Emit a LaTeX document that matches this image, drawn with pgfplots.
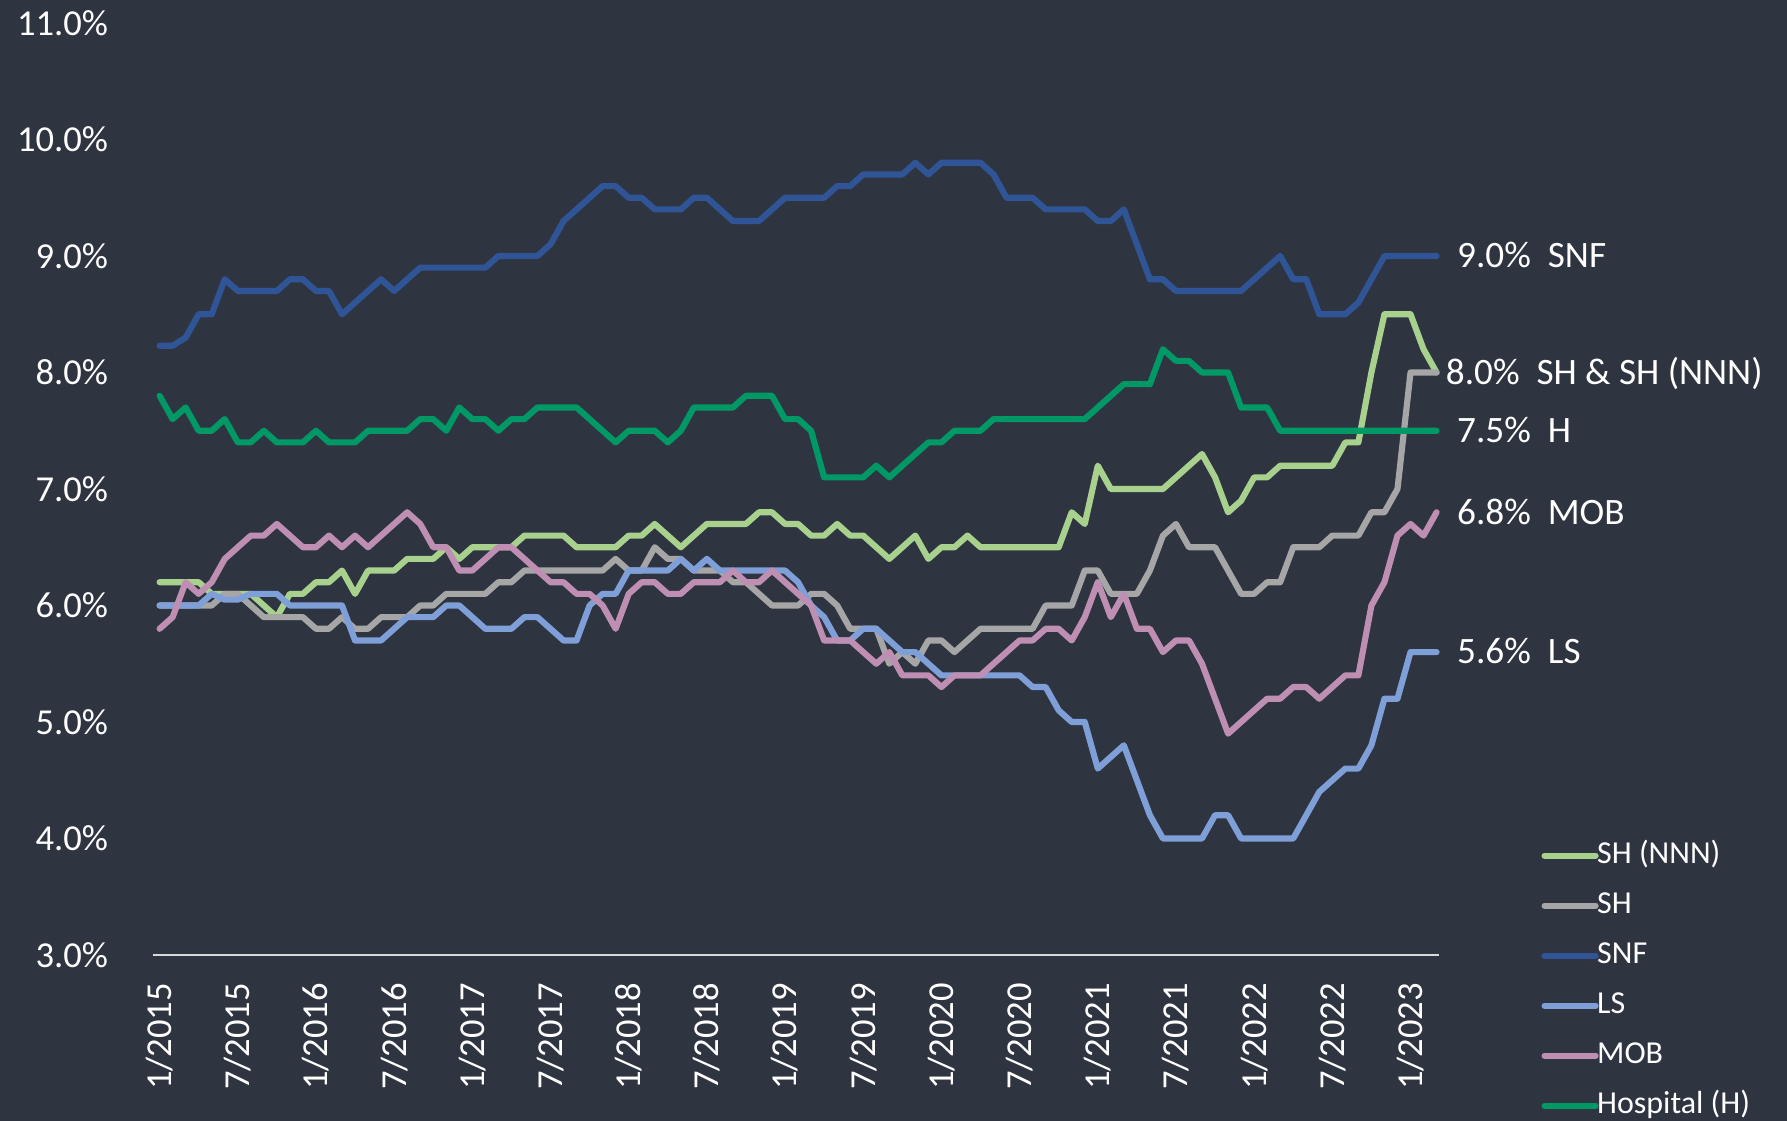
\documentclass[border=0pt]{standalone}
\usepackage{pgfplots}
\pgfplotsset{compat=1.18}
\usepackage{pgfplotstable}
\usepackage{fontspec}
\setmainfont{Carlito}
\definecolor{bgc}{RGB}{47,52,65}
\definecolor{nnnc}{RGB}{169,209,142}
\definecolor{shc}{RGB}{166,166,166}
\definecolor{snfc}{RGB}{47,85,151}
\definecolor{lsc}{RGB}{127,159,217}
\definecolor{mobc}{RGB}{190,143,178}
\definecolor{hospc}{RGB}{0,153,102}
\definecolor{axc}{RGB}{217,217,217}
\pgfplotstableread{
m nnn sh snf ls mob hosp
0 6.2 6.0 8.23 6.0 5.8 7.8
1 6.2 6.0 8.23 6.0 5.9 7.6
2 6.2 6.0 8.3 6.0 6.2 7.7
3 6.2 6.0 8.5 6.0 6.1 7.5
4 6.1 6.0 8.5 6.1 6.2 7.5
5 6.1 6.1 8.8 6.05 6.4 7.6
6 6.1 6.1 8.7 6.05 6.5 7.4
7 6.1 6.0 8.7 6.1 6.6 7.4
8 6.0 5.9 8.7 6.1 6.6 7.5
9 5.9 5.9 8.7 6.1 6.7 7.4
10 6.1 5.9 8.8 6.0 6.6 7.4
11 6.1 5.9 8.8 6.0 6.5 7.4
12 6.2 5.8 8.7 6.0 6.5 7.5
13 6.2 5.8 8.7 6.0 6.6 7.4
14 6.3 5.9 8.5 6.0 6.5 7.4
15 6.1 5.8 8.6 5.7 6.6 7.4
16 6.3 5.8 8.7 5.7 6.5 7.5
17 6.3 5.9 8.8 5.7 6.6 7.5
18 6.3 5.9 8.7 5.8 6.7 7.5
19 6.4 5.9 8.8 5.9 6.8 7.5
20 6.4 6.0 8.9 5.9 6.7 7.6
21 6.4 6.0 8.9 5.9 6.5 7.6
22 6.5 6.1 8.9 6.0 6.5 7.5
23 6.4 6.1 8.9 6.0 6.3 7.7
24 6.5 6.1 8.9 5.9 6.3 7.6
25 6.5 6.1 8.9 5.8 6.4 7.6
26 6.5 6.2 9.0 5.8 6.5 7.5
27 6.5 6.2 9.0 5.8 6.5 7.6
28 6.6 6.3 9.0 5.9 6.4 7.6
29 6.6 6.3 9.0 5.9 6.3 7.7
30 6.6 6.3 9.1 5.8 6.2 7.7
31 6.6 6.3 9.3 5.7 6.2 7.7
32 6.5 6.3 9.4 5.7 6.1 7.7
33 6.5 6.3 9.5 6.0 6.1 7.6
34 6.5 6.3 9.6 6.1 6.0 7.5
35 6.5 6.4 9.6 6.1 5.8 7.4
36 6.6 6.3 9.5 6.3 6.1 7.5
37 6.6 6.3 9.5 6.3 6.2 7.5
38 6.7 6.5 9.4 6.3 6.2 7.5
39 6.6 6.4 9.4 6.3 6.1 7.4
40 6.5 6.4 9.4 6.4 6.1 7.5
41 6.6 6.3 9.5 6.3 6.2 7.7
42 6.7 6.3 9.5 6.4 6.2 7.7
43 6.7 6.3 9.4 6.3 6.2 7.7
44 6.7 6.2 9.3 6.3 6.3 7.7
45 6.7 6.2 9.3 6.3 6.2 7.8
46 6.8 6.1 9.3 6.3 6.2 7.8
47 6.8 6.0 9.4 6.3 6.3 7.8
48 6.7 6.0 9.5 6.3 6.2 7.6
49 6.7 6.0 9.5 6.2 6.1 7.6
50 6.6 6.1 9.5 6.0 6.0 7.5
51 6.6 6.1 9.5 5.9 5.7 7.1
52 6.7 6.0 9.6 5.7 5.7 7.1
53 6.6 5.8 9.6 5.7 5.7 7.1
54 6.6 5.8 9.7 5.8 5.6 7.1
55 6.5 5.8 9.7 5.8 5.5 7.2
56 6.4 5.5 9.7 5.7 5.6 7.1
57 6.5 5.6 9.7 5.6 5.4 7.2
58 6.6 5.5 9.8 5.6 5.4 7.3
59 6.4 5.7 9.7 5.5 5.4 7.4
60 6.5 5.7 9.8 5.4 5.3 7.4
61 6.5 5.6 9.8 5.4 5.4 7.5
62 6.6 5.7 9.8 5.4 5.4 7.5
63 6.5 5.8 9.8 5.4 5.4 7.5
64 6.5 5.8 9.7 5.4 5.5 7.6
65 6.5 5.8 9.5 5.4 5.6 7.6
66 6.5 5.8 9.5 5.4 5.7 7.6
67 6.5 5.8 9.5 5.3 5.7 7.6
68 6.5 6.0 9.4 5.3 5.8 7.6
69 6.5 6.0 9.4 5.1 5.8 7.6
70 6.8 6.0 9.4 5.0 5.7 7.6
71 6.7 6.3 9.4 5.0 5.9 7.6
72 7.2 6.3 9.3 4.6 6.2 7.7
73 7.0 6.1 9.3 4.7 5.9 7.8
74 7.0 6.1 9.4 4.8 6.1 7.9
75 7.0 6.1 9.1 4.5 5.8 7.9
76 7.0 6.3 8.8 4.2 5.8 7.9
77 7.0 6.6 8.8 4.0 5.6 8.2
78 7.1 6.7 8.7 4.0 5.7 8.1
79 7.2 6.5 8.7 4.0 5.7 8.1
80 7.3 6.5 8.7 4.0 5.5 8.0
81 7.1 6.5 8.7 4.2 5.2 8.0
82 6.8 6.3 8.7 4.2 4.9 8.0
83 6.9 6.1 8.7 4.0 5.0 7.7
84 7.1 6.1 8.8 4.0 5.1 7.7
85 7.1 6.2 8.9 4.0 5.2 7.7
86 7.2 6.2 9.0 4.0 5.2 7.5
87 7.2 6.5 8.8 4.0 5.3 7.5
88 7.2 6.5 8.8 4.2 5.3 7.5
89 7.2 6.5 8.5 4.4 5.2 7.5
90 7.2 6.6 8.5 4.5 5.3 7.5
91 7.4 6.6 8.5 4.6 5.4 7.5
92 7.4 6.6 8.6 4.6 5.4 7.5
93 8.0 6.8 8.8 4.8 6.0 7.5
94 8.5 6.8 9.0 5.2 6.2 7.5
95 8.5 7.0 9.0 5.2 6.6 7.5
96 8.5 8.0 9.0 5.6 6.7 7.5
97 8.2 8.0 9.0 5.6 6.6 7.5
98 8.0 8.0 9.0 5.6 6.8 7.5
}\datatable
\begin{document}
\begin{tikzpicture}
\fill[bgc] (-15.27mm,-16.6mm) rectangle (163.43mm,95.5mm);
\useasboundingbox (-15.27mm,-16.6mm) rectangle (163.43mm,95.5mm);
\begin{axis}[
  at={(0,0)}, anchor=south west,
  scale only axis,
  x=1.303mm, y=11.65mm,
  xmin=-0.53, xmax=98.2, ymin=3, ymax=11,
  axis x line*=bottom, axis y line*=left,
  x axis line style={-, draw=axc, line width=0.6pt},
  y axis line style={draw=none},
  ytick={3,4,...,11},
  xtick={0,6,...,96},
  xticklabels={1/2015,7/2015,1/2016,7/2016,1/2017,7/2017,1/2018,7/2018,1/2019,7/2019,1/2020,7/2020,1/2021,7/2021,1/2022,7/2022,1/2023},
  major tick length=0pt,
  tick style={draw=none},
  yticklabel={\pgfmathprintnumber[fixed,fixed zerofill,precision=1,assume math mode=true]{\tick}\%},
  ticklabel style={font=\fontsize{10.4}{12}\selectfont, text=white, inner sep=0pt},
  xticklabel style={rotate=90, anchor=east},
  yticklabel style={anchor=east},
  xticklabel shift=2.75mm,
  yticklabel shift=4.4mm,
  clip=false,
  legend image code/.code={\draw[#1] (0mm,0mm) -- (5.1mm,0mm);},
  legend cell align=left,
  legend style={at={(axis cs:106.0,3.987)}, anchor=north west, draw=none, fill=none,
    inner sep=0pt, row sep=2mm, column sep=-0.15mm,
    font=\fontsize{9.1}{11}\selectfont, text=white,
    nodes={inner sep=0pt, text height=2.3mm, text depth=0.7mm}},
  every axis plot/.append style={line width=1.75pt, line join=round, line cap=round},
]
\addplot[nnnc, line width=1.75pt] table[x=m, y=nnn] {\datatable};
\addlegendentry{SH (NNN)}
\addplot[shc, line width=1.75pt] table[x=m, y=sh] {\datatable};
\addlegendentry{SH}
\addplot[snfc, line width=1.75pt] table[x=m, y=snf] {\datatable};
\addlegendentry{SNF}
\addplot[lsc, line width=1.75pt] table[x=m, y=ls] {\datatable};
\addlegendentry{LS}
\addplot[mobc, line width=1.75pt] table[x=m, y=mob] {\datatable};
\addlegendentry{MOB}
\addplot[hospc, line width=1.75pt] table[x=m, y=hosp] {\datatable};
\addlegendentry{Hospital (H)}
\begin{scope}[every node/.style={anchor=base west, inner sep=0pt, text=white, font=\fontsize{10.6}{12}\selectfont, yshift=-1.18mm}]
\node at (axis cs:99.53,9.0) {9.0\%\ \ SNF};
\node at (axis cs:98.66,8.0) {8.0\%\ \ SH \& SH (NNN)};
\node at (axis cs:99.53,7.5) {7.5\%\ \ H};
\node at (axis cs:99.53,6.8) {6.8\%\ \ MOB};
\node at (axis cs:99.53,5.6) {5.6\%\ \ LS};
\end{scope}
\end{axis}
\end{tikzpicture}
\end{document}
